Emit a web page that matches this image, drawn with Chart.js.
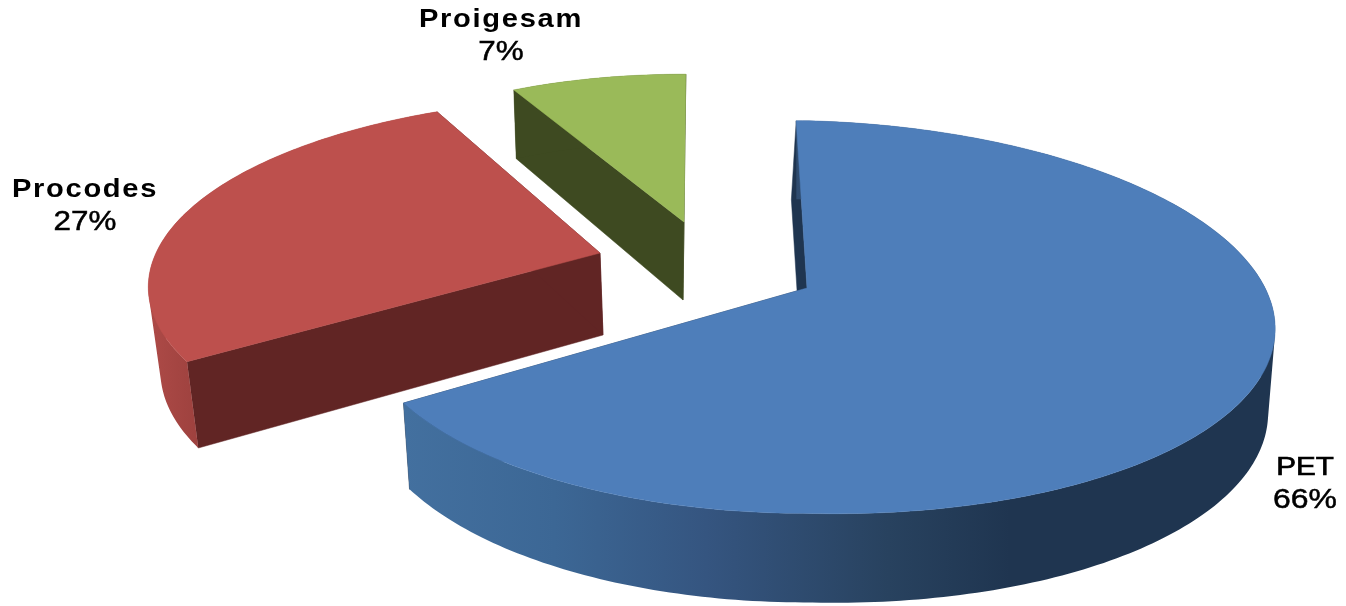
<!DOCTYPE html>
<html><head><meta charset="utf-8">
<style>html,body{margin:0;padding:0;background:#fff}canvas{display:block}</style>
<script src="https://cdn.jsdelivr.net/npm/chart.js@4"></script>
</head><body>
<canvas id="c" width="1346" height="606"></canvas>
<script>
const categories = ['PET','Procodes','Proigesam'];
const values = [66,27,7];
const percentLabels = ['66%','27%','7%'];
const topColors = ['#4e7eba','#bd504d','#9aba59'];
const wallColors = ['#1f3550','#612524','#3e4a21'];

// per-slice projection of the unit disc onto the picture
const proj = [
 {x:807,y:288,aL:444,aR:463,b:192,k:.148,shR:.025,shx:0,d:83,dx:0,sx:.985,sy:1.027,p0:.6,p1:0,wdx:-5},
 {x:600,y:253,aL:444,aR:444,b:180,k:.16,shR:0,shx:-.06,d:82,dx:3,sx:.98,sy:1.04,p0:0,p1:0,wdx:0},
 {x:684,y:222,aL:405,aR:405,b:170,k:.15,shR:0,shx:0,d:78,dx:-1,sx:.98,sy:1.07,p0:2.2,p1:1.3,wdx:0}
];
const labelPos = [
 {x:1305,y:468,sx:1.14,sp:0,w:'normal',st:.7},
 {x:85,y:190,sx:1.12,sp:1.5,w:'bold',st:0},
 {x:501,y:20,sx:1.12,sp:1.5,w:'bold',st:0}
];

function pt(p,th,r,base,wdx){
  const u=r*Math.cos(th), v=r*Math.sin(th), w=1-p.k*v;
  let X=(u<0?p.aL:p.aR)*u/w, Y=p.b*v/w;
  if(X>0) Y+=p.shR*X;
  X+=p.shx*Y;
  return base ? [p.x+p.dx+(wdx||0)+X*p.sx, p.y+p.d+Y*p.sy] : [p.x+X, p.y+Y];
}
function addPoly(ctx,pts){
  let area=0;
  pts.forEach((q,i)=>{const r=pts[(i+1)%pts.length];area+=q[0]*r[1]-r[0]*q[1];});
  const seq=area<0?pts.slice().reverse():pts;
  seq.forEach((q,i)=>i?ctx.lineTo(q[0],q[1]):ctx.moveTo(q[0],q[1]));
  ctx.closePath();
}
function drawSlice(ctx,el,i){
  const p=proj[i], rad=Math.PI/180, a0=el.startAngle-p.p0*rad, a1=el.endAngle+p.p1*rad;
  ctx.save();
  ctx.lineWidth=.5;ctx.lineJoin='round';
  // radial walls
  ctx.fillStyle=ctx.strokeStyle=wallColors[i];
  [[a0,p.wdx],[a1,0]].forEach(([a,off])=>{
    ctx.beginPath();
    addPoly(ctx,[pt(p,a,0,false),pt(p,a,1,false),pt(p,a,1,true,off),pt(p,a,0,true,off)]);
    ctx.fill();ctx.stroke();
  });
  // outer wall
  let fill=wallColors[i];
  if(i===0){
    const g=ctx.createLinearGradient(403,0,1010,0);
    g.addColorStop(0,'#43709f');g.addColorStop(.25,'#3c6795');g.addColorStop(.5,'#355580');
    g.addColorStop(.8,'#28425f');g.addColorStop(1,'#1f3550');fill=g;
  } else if(i===1){
    const g=ctx.createLinearGradient(150,0,200,0);
    g.addColorStop(0,'#ad4a47');g.addColorStop(1,'#9d413e');fill=g;
  }
  ctx.fillStyle=fill;
  const n=Math.ceil((a1-a0)*60);
  ctx.beginPath();
  for(let s=0;s<n;s++){
    const t0=a0+(a1-a0)*s/n,t1=a0+(a1-a0)*(s+1)/n;
    addPoly(ctx,[pt(p,t0,1,false),pt(p,t1,1,false),pt(p,t1,1,true),pt(p,t0,1,true)]);
  }
  ctx.fill('nonzero');
  // top face
  ctx.fillStyle=ctx.strokeStyle=topColors[i];
  const top=[pt(p,0,0,false)];
  for(let s=0;s<=n;s++) top.push(pt(p,a0+(a1-a0)*s/n,1,false));
  ctx.beginPath();addPoly(ctx,top);ctx.fill();ctx.stroke();
  ctx.restore();
}
const pie3d={
  id:'pie3d',
  afterDatasetsUpdate(chart){
    chart.getDatasetMeta(0).data.forEach((el,i)=>{ el.draw=function(ctx){drawSlice(ctx,this,i);}; });
  },
  afterDatasetsDraw(chart){
    const ctx=chart.ctx;
    categories.forEach((name,i)=>{
      const l=labelPos[i];
      ctx.save();ctx.fillStyle='#000';ctx.strokeStyle='#000';ctx.textAlign='center';ctx.textBaseline='middle';
      ctx.translate(l.x,l.y);ctx.scale(l.sx,1);
      ctx.font=l.w+' 26px "Liberation Sans", Arial, sans-serif';
      ctx.letterSpacing=l.sp+'px';
      ctx.fillText(name,0,0);
      if(l.st){ctx.lineWidth=l.st;ctx.strokeText(name,0,0);}
      ctx.letterSpacing='0px';
      ctx.font='normal 28px "Liberation Sans", Arial, sans-serif';
      ctx.fillText(percentLabels[i],0,32);
      ctx.lineWidth=.5;ctx.strokeText(percentLabels[i],0,32);
      ctx.restore();
    });
  }
};
new Chart(document.getElementById('c'),{
  type:'pie',
  data:{labels:categories,datasets:[{data:values,backgroundColor:topColors,borderWidth:0}]},
  options:{responsive:false,animation:false,rotation:-1,events:[],
    plugins:{legend:{display:false},tooltip:{enabled:false},title:{display:false}}},
  plugins:[pie3d]
});
</script>
</body></html>
